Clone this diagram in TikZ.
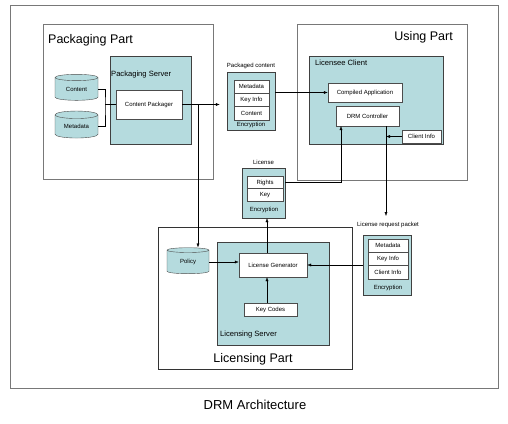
\documentclass[tikz,border=0pt]{standalone}
\usepackage{fontspec}
\setmainfont{Liberation Sans}
\usetikzlibrary{shapes.geometric,arrows.meta}
\definecolor{srvfill}{RGB}{181,219,222}
\definecolor{partline}{RGB}{120,120,120}
\begin{document}
\begin{tikzpicture}[x=1pt,y=-1pt,
  part/.style={draw=partline, rectangle, inner sep=0pt},
  server/.style={draw=black!75, fill=srvfill, rectangle, inner sep=0pt},
  unit/.style={draw=black!70, fill=white, rectangle, inner sep=0pt, font=\fontsize{6}{7}\selectfont},
  store/.style={draw=black!70, fill=srvfill, cylinder, shape border rotate=90, aspect=0.3, inner sep=0pt, font=\fontsize{6}{7}\selectfont},
  tiny/.style={inner sep=0pt, font=\fontsize{6}{7}\selectfont},
  mid/.style={inner sep=0pt, font=\fontsize{7.6}{9}\selectfont},
  big/.style={inner sep=0pt, font=\fontsize{12.5}{14}\selectfont},
  flow/.style={-{Latex[length=4pt,width=3pt]}, black}]
% page and outer frame
\fill[white] (0,0) rectangle (508,423);
\useasboundingbox (0,0) rectangle (508,423);
\draw[partline] (10,5) rectangle (498,388);
\node[big, font=\fontsize{13}{15}\selectfont] (title) at (255,405) {DRM Architecture};

% packaging part
\node[part, minimum width=170pt, minimum height=155pt] (packpart) at (128,101.5) {};
\node[big, anchor=west] (packlbl) at (48,40) {Packaging Part};
\node[server, minimum width=81pt, minimum height=88pt] (packsrv) at (150.5,100) {};
\node[mid, anchor=north west] (packsrvlbl) at (111,71) {Packaging Server};
\node[unit, minimum width=66pt, minimum height=29pt] (packager) at (149,104.5) {Content Packager};
\node[store, minimum width=43pt, minimum height=26pt] (content) at (76.5,89) {Content};
\node[store, minimum width=43pt, minimum height=27pt] (metadata) at (76.5,126.5) {Metadata};

% packaged content
\node[tiny] (pcklbl) at (251,66) {Packaged content};
\node[server, minimum width=48pt, minimum height=58pt] (pck) at (251,101) {};
\foreach \t/\y [count=\i] in {Metadata/86.6,Key Info/100,Content/113.3}
  \node[unit, minimum width=35pt, minimum height=13.3pt] (pck\i) at (251.5,\y) {\t};
\node[tiny] (pckenc) at (251,125) {Encryption};

% using part
\node[part, minimum width=170pt, minimum height=156pt] (usepart) at (382,102) {};
\node[big, anchor=east] (uselbl) at (453,37) {Using Part};
\node[server, minimum width=134pt, minimum height=88pt] (client) at (376,100) {};
\node[mid, anchor=north west] (clientlbl) at (315,60) {Licensee Client};
\node[unit, minimum width=74pt, minimum height=19pt] (app) at (365,92.5) {Compiled Application};
\node[unit, minimum width=63pt, minimum height=20pt] (drm) at (367.5,116) {DRM Controller};
\node[unit, minimum width=39pt, minimum height=13pt] (cinfo) at (421.5,136.5) {Client Info};

% license
\node[tiny] (liclbl) at (263.5,162) {License};
\node[server, minimum width=43pt, minimum height=50pt] (lic) at (263.5,193) {};
\node[unit, minimum width=36pt, minimum height=12pt] (rights) at (265,182.5) {Rights};
\node[unit, minimum width=36pt, minimum height=13pt] (key) at (265,195) {Key};
\node[tiny] (licenc) at (264,210) {Encryption};

% license request packet
\node[tiny] (reqlbl) at (388,225) {License request packet};
\node[server, minimum width=48pt, minimum height=60pt] (req) at (387,265) {};
\foreach \t/\y [count=\i] in {Metadata/245.6,Key Info/259,Client Info/272.3}
  \node[unit, minimum width=40pt, minimum height=13.3pt] (req\i) at (388,\y) {\t};
\node[tiny] (reqenc) at (388,288) {Encryption};

% licensing part
\node[part, draw=black!80, minimum width=194pt, minimum height=142pt] (licpart) at (255,298) {};
\node[big] (licpartlbl) at (253,359) {Licensing Part};
\node[server, minimum width=112pt, minimum height=103pt] (licsrv) at (273,293.5) {};
\node[mid, anchor=west] (licsrvlbl) at (220,335) {Licensing Server};
\node[unit, minimum width=68pt, minimum height=24pt] (licgen) at (273,265) {License Generator};
\node[unit, minimum width=53pt, minimum height=13pt] (keycodes) at (270.5,309.5) {Key Codes};
\node[store, minimum width=42pt, minimum height=26pt] (policy) at (188,262) {Policy};

% connectors
\coordinate (join) at (105,104.5);
\coordinate (tap) at (198,104.5);
\coordinate (drmout) at (386,126);
\coordinate (reqtip) at (386,216);
\coordinate (drmin) at (341,126);
\draw (content.east) -| (join) |- (metadata.east);
\draw (join) -- (packager.west);
\draw[flow, shorten >=7pt] (packager.east) -- (pck.west |- packager.east);
\draw[flow] (tap) -- (tap |- policy.north);
\draw[flow] (pck.east |- app.west) -- (app.west);
\draw[flow] (cinfo.west) -- (cinfo.west -| drmout);
\draw[flow] (drmout) -- (reqtip);
\draw[flow] (req.west) -- (req.west -| licgen.east);
\draw[flow] (policy.east) -- (policy.east -| licgen.west);
\draw[flow] (keycodes.north -| licgen.south) ++(-6,0) coordinate (kc) -- (kc |- licgen.south);
\draw[flow] (licgen.north) ++(-6,0) coordinate (lg) -- (lg |- lic.south);
\draw[flow] (lic.east |- rights) -| (drmin);
\end{tikzpicture}
\end{document}
